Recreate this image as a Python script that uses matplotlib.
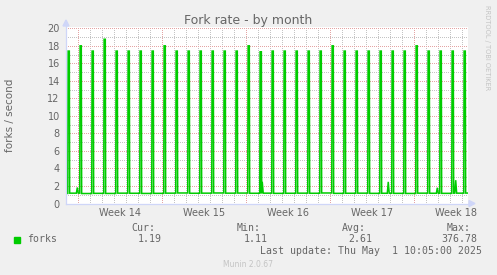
import matplotlib
matplotlib.use("Agg")
import matplotlib.pyplot as plt
from matplotlib.lines import Line2D
from matplotlib.patches import Polygon, Rectangle

# time axis in days, 0 = Mon Mar 31 00:00 (start of week 14)
first_spike = -0.78
spike_peaks = [17.4, 18.0, 17.4, 18.75, 17.4, 17.4, 17.4, 17.4, 18.0, 17.4,
               17.4, 17.4, 17.4, 17.4, 17.4, 18.0, 17.4, 17.4, 17.4, 17.4,
               17.4, 17.4, 18.0, 17.4, 17.4, 17.4, 17.4, 17.4, 17.4, 18.0,
               17.4, 17.4, 17.4, 17.4]
base_levels = [1.15, 1.18, 1.14, 1.16, 1.15, 1.18, 1.17, 1.15, 1.16, 1.18,
               1.2, 1.17, 1.18, 1.2, 1.18, 1.19, 1.17, 1.18, 1.16, 1.17,
               1.18, 1.17, 1.2, 1.16, 1.17, 1.18, 1.16, 1.17, 1.16, 1.15,
               1.18, 1.17, 1.16, 1.18, 1.19]
bump_days = [-0.03, 15.38, 25.88, 29.97, 31.5]
bump_vals = [1.83, 2.47, 2.47, 1.8, 2.66]

week_pos = [3.5, 10.5, 17.5, 24.5, 31.5]
week_labels = ["Week 14", "Week 15", "Week 16", "Week 17", "Week 18"]
x_range = (-0.975, 32.525)

legend_name = "forks"
stat_names = ["Cur:", "Min:", "Avg:", "Max:"]
stat_vals = ["1.19", "1.11", "2.61", "376.78"]
last_update = "Last update: Thu May  1 10:05:00 2025"

W, H = 497, 275
BG = "#F0F0F0"
FONT = "#666666"
AXIS = "#CFD6F8"
GREEN = "#00CC00"


def fx(x):
    return x / W


def fy(y):
    return 1 - y / H


# build the series: baseline, daily spike, small bumps
pts = [(x_range[0], base_levels[0])]
for k, peak in enumerate(spike_peaks):
    d = first_spike + k
    pts += [(d - 0.05, base_levels[k]), (d - 0.02, peak), (d + 0.08, peak),
            (d + 0.11, base_levels[k + 1])]
for d, v in zip(bump_days, bump_vals):
    b = base_levels[int(d - first_spike) + 1]
    pts += [(d - 0.08, b), (d, v), (d + 0.08, b)]
pts.append((x_range[1], base_levels[-1]))
pts.sort()
t = [p[0] for p in pts]
v = [p[1] for p in pts]

fig = plt.figure(figsize=(W / 100, H / 100), dpi=100, facecolor=BG)
left, right, top, bottom = 66, 468, 26.5, 203.5
ax = fig.add_axes([fx(left), fy(bottom), fx(right - left), (bottom - top) / H])
ax.set_facecolor("white")
ax.set_xlim(*x_range)
ax.set_ylim(0, 20 * (bottom - top) / (bottom - 28.3))
for s in ax.spines.values():
    s.set_visible(False)

# grid: dotted, 1 px on / 2 px off
for d in range(0, 33):
    c = "#e4a4a4" if d % 7 == 0 else "#c4c4c4"
    ax.axvline(d, color=c, lw=0.72, ls=(0, (1, 2)), zorder=1, antialiased=False)
for yv in range(1, 21):
    c = "#e4a4a4" if yv % 2 == 0 else "#c4c4c4"
    ax.axhline(yv, color=c, lw=0.72, ls=(0, (1, 2)), zorder=1, antialiased=False)

ax.plot(t, v, color=GREEN, lw=1.1, zorder=3, solid_joinstyle="miter")

ax.set_yticks(range(0, 21, 2))
ax.set_xticks(week_pos)
ax.set_xticklabels(week_labels)
ax.tick_params(axis="both", length=0, labelsize=7, labelcolor=FONT)
ax.tick_params(axis="y", pad=4.5)
ax.tick_params(axis="x", pad=3)

# axes with arrows
fig.add_artist(Line2D([fx(66), fx(66)], [fy(203.5), fy(24)], color=AXIS, lw=0.9))
fig.add_artist(Line2D([fx(66), fx(470)], [fy(203.5), fy(203.5)], color=AXIS, lw=0.9))
fig.add_artist(Polygon([(fx(63), fy(26)), (fx(69), fy(26)), (fx(66), fy(20))],
                       closed=True, color=AXIS, transform=fig.transFigure))
fig.add_artist(Polygon([(fx(469), fy(200.5)), (fx(469), fy(206.5)), (fx(475), fy(203.5))],
                       closed=True, color=AXIS, transform=fig.transFigure))

fig.text(fx(248), fy(24), "Fork rate - by month", ha="center", va="baseline",
         fontsize=9, color=FONT)
fig.text(fx(10), fy(115), "forks / second", rotation=90, ha="center", va="center",
         fontsize=7.5, color=FONT)
fig.text(fx(487.5), fy(5), "RRDTOOL / TOBI OETIKER", rotation=270, ha="center",
         va="top", fontsize=4.8, color="#c4c4c4")
fig.text(fx(248), fy(264.5), "Munin 2.0.67", ha="center", va="center",
         fontsize=5.5, color="#c4c4c4")

# legend
mono = dict(family="DejaVu Sans Mono", fontsize=7.1, color=FONT, va="center")
fig.add_artist(Rectangle((fx(14), fy(242.5)), fx(6), 6 / H, color=GREEN,
                         transform=fig.transFigure))
fig.text(fx(26.7), fy(239.5), legend_name, ha="left", **mono)
name_x = [131.7, 236.7, 342.3, 446.7]
val_x = [137.7, 243.3, 348.3, 441.0]
for nx, vx, n, s in zip(name_x, val_x, stat_names, stat_vals):
    fig.text(fx(nx), fy(227.7), n, ha="left", **mono)
    fig.text(fx(vx), fy(239.5), s, ha="left", **mono)
fig.text(fx(482.5), fy(251.3), last_update, ha="right", **mono)

fig.savefig("out.png", dpi=100, facecolor=BG)
